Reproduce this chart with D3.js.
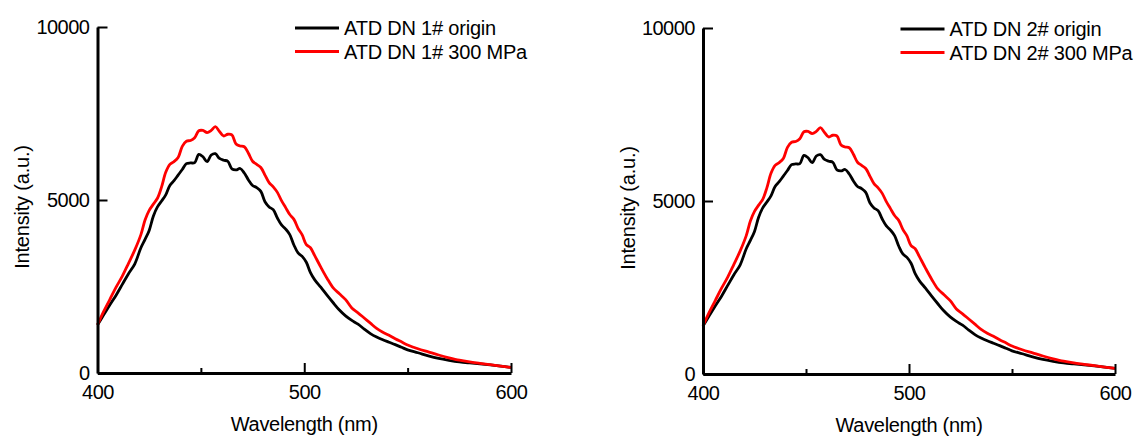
<!DOCTYPE html>
<html>
<head>
<meta charset="utf-8">
<script src="https://cdn.jsdelivr.net/npm/d3@7"></script>
<style>
    body { margin: 0; background: #fff; }
    svg text { font-family: "Liberation Sans", Arial, sans-serif; fill: #000; }
</style>
</head>
<body>
<svg id="chart" width="1135" height="437"></svg>
<script>
// DATA (both panels show the same spectra)
const wavelengths = [
    400, 403, 406, 409, 412, 415, 418, 421, 423, 425, 427, 429, 431, 433, 435, 437, 439, 441, 443, 445,
    447, 449, 451, 453, 455, 457, 459, 461, 463, 465, 467, 469, 471, 473, 475, 477, 479, 481, 483, 485,
    487, 489, 491, 493, 495, 497, 499, 501, 503, 505, 508, 511, 514, 517, 520, 523, 526, 529, 532, 535,
    538, 541, 544, 547, 550, 555, 560, 565, 570, 575, 580, 585, 590, 595, 600
];
const originIntensity = [
    1390, 1680, 1970, 2250, 2560, 2870, 3150, 3620, 3860, 4120, 4530, 4800, 4970, 5150, 5420, 5560, 5720, 5880, 6050, 6070,
    6080, 6320, 6250, 6110, 6300, 6340, 6200, 6150, 6120, 5900, 5870, 5910, 5780, 5580, 5420, 5360, 5250, 4950, 4800, 4720,
    4480, 4280, 4160, 4000, 3700, 3470, 3370, 3200, 2900, 2700, 2480, 2250, 2030, 1820, 1650, 1520, 1410, 1270, 1140, 1040,
    960, 890, 820, 745, 670, 585, 495, 420, 365, 320, 290, 265, 235, 200, 160
];
const pressedIntensity = [
    1390, 1780, 2130, 2480, 2800, 3170, 3550, 4000, 4420, 4700, 4880, 5050, 5380, 5800, 6030, 6110, 6230, 6550, 6700, 6720,
    6800, 7000, 7010, 6950, 7010, 7120, 6980, 6850, 6900, 6880, 6620, 6560, 6540, 6350, 6120, 6030, 5940, 5720, 5500, 5380,
    5220, 4980, 4780, 4580, 4440, 4180, 3990, 3710, 3620, 3400, 3060, 2740, 2460, 2290, 2120, 1880, 1740, 1590, 1440, 1290,
    1180, 1090, 990, 900, 810, 700, 610, 520, 440, 370, 320, 280, 240, 200, 160
];
const sampleNames = ["ATD DN 1#", "ATD DN 2#"];
const seriesSuffixes = ["origin", "300 MPa"];
const xMajorTicks = [400, 500, 600];
const xMinorTicks = [450, 550];
const yTicks = [0, 5000, 10000];

//LAYOUT
const panelBoxes = [
    { left: 97.5, right: 511, top: 27, bottom: 373 },
    { left: 703, right: 1115, top: 28, bottom: 374 }
];
const seriesColours = ["#000000", "#ff0000"];
const FONT_SIZE = 20;

const svg = d3.select("#chart");

function drawPanel(g, box, sampleName) {
    const x = d3.scaleLinear().domain([400, 600]).range([box.left, box.right]);
    const y = d3.scaleLinear().domain([0, 10000]).range([box.bottom, box.top]);

    const series = [originIntensity, pressedIntensity].map((values, i) => ({
        key: seriesSuffixes[i],
        colour: seriesColours[i],
        points: wavelengths.map((w, j) => [w, values[j]])
    }));

    const line = d3.line()
        .x(d => x(d[0]))
        .y(d => y(d[1]))
        .curve(d3.curveCatmullRom.alpha(0.5));

    //lines
    g.selectAll("path.spectrum").data(series)
        .join("path")
            .attr("class", "spectrum")
            .attr("fill", "none")
            .attr("stroke", d => d.colour)
            .attr("stroke-width", 2.8)
            .attr("stroke-linejoin", "round")
            .attr("d", d => line(d.points));

    //x axis (ticks inside)
    g.append("g")
        .attr("transform", `translate(0,${box.bottom})`)
        .call(d3.axisBottom(x).tickValues(xMajorTicks).tickSize(-10).tickSizeOuter(0).tickPadding(12));
    g.append("g")
        .attr("transform", `translate(0,${box.bottom})`)
        .call(d3.axisBottom(x).tickValues(xMinorTicks).tickSize(-5).tickFormat(""))
        .call(a => a.select(".domain").remove());

    //y axis
    g.append("g")
        .attr("transform", `translate(${box.left},0)`)
        .call(d3.axisLeft(y).tickValues(yTicks).tickFormat(d3.format("d"))
            .tickSize(-10).tickSizeOuter(0).tickPadding(8));

    g.selectAll(".domain").attr("stroke-width", 3);
    g.selectAll(".tick line").attr("stroke-width", 2);
    g.selectAll(".tick text")
        .attr("font-size", FONT_SIZE)
        .attr("font-family", "Liberation Sans, Arial, sans-serif")
        .attr("letter-spacing", "-0.5px");

    //axis titles
    g.append("text")
        .attr("x", (box.left + box.right) / 2)
        .attr("y", box.bottom + 58)
        .attr("text-anchor", "middle")
        .attr("font-size", FONT_SIZE)
        .attr("letter-spacing", "-0.3px")
        .text("Wavelength (nm)");

    g.append("text")
        .attr("transform", `translate(${box.left - 68.5},${box.top + 180}) rotate(-90)`)
        .attr("text-anchor", "middle")
        .attr("font-size", FONT_SIZE)
        .attr("letter-spacing", "-0.2px")
        .text("Intensity (a.u.)");

    //legend
    const legendG = g.selectAll("g.legend-item").data(series)
        .join("g")
            .attr("class", "legend-item")
            .attr("transform", (d, i) => `translate(${box.left + 197.5},${box.top + 1 + i * 23.5})`);
    legendG.append("line")
        .attr("x1", 0).attr("x2", 44)
        .attr("stroke", d => d.colour)
        .attr("stroke-width", 2.8);
    legendG.append("text")
        .attr("x", 49)
        .attr("y", 7)
        .attr("font-size", FONT_SIZE)
        .attr("letter-spacing", "-0.2px")
        .text(d => `${sampleName} ${d.key}`);
}

panelBoxes.forEach((box, i) => {
    drawPanel(svg.append("g").attr("class", `panel-${i}`), box, sampleNames[i]);
});
</script>
</body>
</html>
